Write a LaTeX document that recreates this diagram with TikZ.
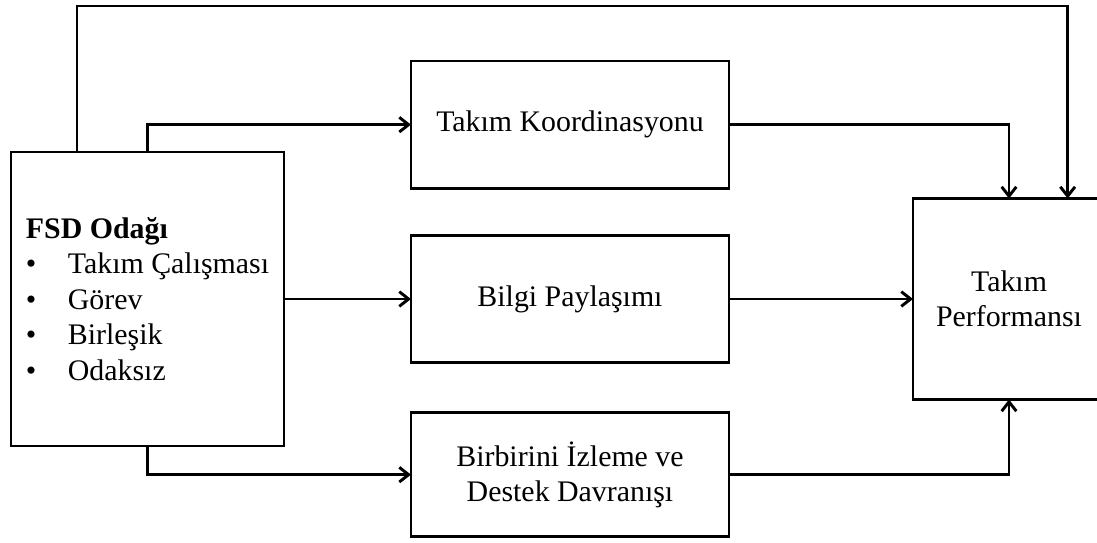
\documentclass[tikz,border=0pt]{standalone}
\usepackage{fontspec}
\setmainfont{Liberation Serif}
\usepackage{tikz}
\usetikzlibrary{positioning,arrows.meta}

\newcommand{\itembul}{\makebox[31.5pt][l]{\textbullet}}

\begin{document}
\begin{tikzpicture}[
  x=0.75pt, y=-0.75pt,
  font=\fontsize{22.4}{26.6}\selectfont,
  >={Straight Barb[length=7pt,width=11pt]},
  line width=2.2pt,
  every node/.style={outer sep=0pt},
  blk/.style={draw, align=center, inner sep=4pt,
              minimum width=238.5pt, minimum height=95.5pt},
  ar/.style={->},
]
  \useasboundingbox (0,0) rectangle (1097,543);
  \clip (0,0) rectangle (1097,543);

  \node[draw, align=left, minimum width=204.75pt, minimum height=220.5pt] (fsd) at (147.5,299)
        {\textbf{FSD Odağı}\\\itembul Takım Çalışması\\\itembul Görev\\\itembul Birleşik\\\itembul Odaksız};
  \node[blk, right=95.25pt of fsd] (info) {Bilgi Paylaşımı};
  \node[blk, above=35.25pt of info] (coord) {Takım Koordinasyonu};
  \node[blk, below=37.5pt of info, minimum height=93pt] (mon)
        {Birbirini İzleme ve\\Destek Davranışı};
  \node[draw, align=center, right=138pt of info, minimum width=144pt,
        minimum height=150.75pt] (perf) {Takım\\Performansı};

  % connectors
  \coordinate (top) at (0,6);
  \coordinate (perfR) at ([xshift=44pt]perf.north);
  \draw[ar] ([xshift=-52.9pt]fsd.north) |- (top -| perfR) -- (perfR);
  \draw[ar] (fsd.north) |- (coord.west);
  \draw[ar] (coord.east) -| (perf.north);
  \draw[ar] (fsd.east) -- (info.west);
  \draw[ar] (info.east) -- (perf.west);
  \draw[ar] (fsd.south) |- (mon.west);
  \draw[ar] (mon.east) -| (perf.south);
\end{tikzpicture}
\end{document}
